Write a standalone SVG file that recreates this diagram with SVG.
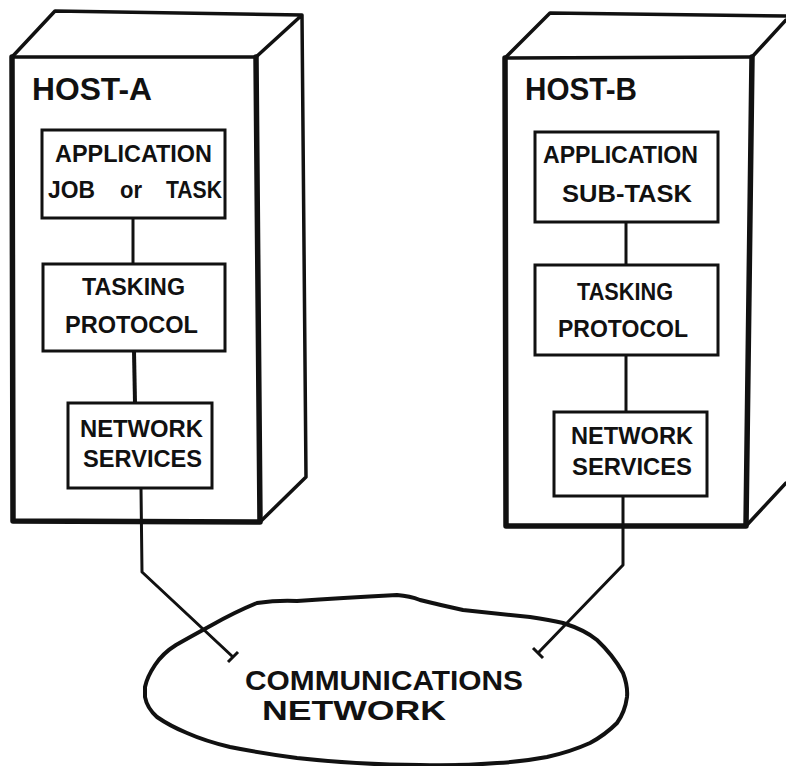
<svg xmlns="http://www.w3.org/2000/svg" width="786" height="766" viewBox="0 0 786 766">
  <style>
    .edge { fill: none; stroke: #111; stroke-linecap: round; stroke-linejoin: round; }
    .face { stroke-width: 5.5; }
    .rim { stroke-width: 3.5; }
    .box { fill: #fff; stroke: #111; stroke-width: 3; }
    .link { fill: none; stroke: #111; stroke-width: 3; stroke-linejoin: round; }
    .lbl { font-family: "Liberation Sans", Arial, sans-serif; font-weight: bold; fill: #111; }
    .host { font-size: 31px; }
    .small { font-size: 24px; }
    .big { font-size: 28px; }
  </style>
  <rect width="786" height="766" fill="#fff"/>

  <!-- Host A cabinet -->
  <g id="host-a">
    <path class="edge rim" d="M12,57 L55,11 L302,15 L256,57 M302,15 L306,477 L260,522"/>
    <path class="edge rim" d="M12,57 L256,57"/>
    <path class="edge face" d="M12,57 L13,521 L260,522 L256,57"/>
    <text class="lbl host" x="32" y="100" textLength="120" lengthAdjust="spacingAndGlyphs">HOST-A</text>
  </g>

  <!-- Host B cabinet -->
  <g id="host-b">
    <path class="edge rim" d="M505,58 L550,13 L786,16 M786,20 L752,57 M746,526 L786,483"/>
    <path class="edge rim" d="M505,58 L752,57"/>
    <path class="edge face" d="M505,58 L506,526 L746,526 L752,57"/>
    <text class="lbl host" x="525" y="100" textLength="112" lengthAdjust="spacingAndGlyphs">HOST-B</text>
  </g>

  <!-- Connectors -->
  <g id="connectors">
    <line class="link" x1="133" y1="218" x2="133" y2="264"/>
    <line class="link" x1="134" y1="351" x2="135" y2="403" style="stroke-width:4"/>
    <polyline class="link" points="141,488 142,572 233,657"/>
    <line class="link" x1="228" y1="662" x2="238" y2="652"/>
    <line class="link" x1="626" y1="222" x2="626" y2="265"/>
    <line class="link" x1="626" y1="355" x2="626" y2="412"/>
    <polyline class="link" points="623,495 623,565 538,653"/>
    <line class="link" x1="533" y1="648" x2="543" y2="658"/>
  </g>

  <!-- Host A nodes -->
  <g id="a-application">
    <rect class="box" x="42" y="130" width="183" height="88"/>
    <text class="lbl small" x="55" y="162" textLength="157" lengthAdjust="spacingAndGlyphs">APPLICATION</text>
    <text class="lbl small" x="48" y="198" textLength="47" lengthAdjust="spacingAndGlyphs">JOB</text>
    <text class="lbl small" x="120" y="198" textLength="22" lengthAdjust="spacingAndGlyphs">or</text>
    <text class="lbl small" x="166" y="198" textLength="56" lengthAdjust="spacingAndGlyphs">TASK</text>
  </g>
  <g id="a-tasking">
    <rect class="box" x="43" y="264" width="182" height="87"/>
    <text class="lbl small" x="82" y="295" textLength="103" lengthAdjust="spacingAndGlyphs">TASKING</text>
    <text class="lbl small" x="65" y="333" textLength="133" lengthAdjust="spacingAndGlyphs">PROTOCOL</text>
  </g>
  <g id="a-network">
    <rect class="box" x="68" y="403" width="144" height="85"/>
    <text class="lbl small" x="80" y="437" textLength="123" lengthAdjust="spacingAndGlyphs">NETWORK</text>
    <text class="lbl small" x="83" y="467" textLength="119" lengthAdjust="spacingAndGlyphs">SERVICES</text>
  </g>

  <!-- Host B nodes -->
  <g id="b-application">
    <rect class="box" x="535" y="132" width="183" height="90"/>
    <text class="lbl small" x="543" y="163" textLength="155" lengthAdjust="spacingAndGlyphs">APPLICATION</text>
    <text class="lbl small" x="562" y="202" textLength="130" lengthAdjust="spacingAndGlyphs">SUB-TASK</text>
  </g>
  <g id="b-tasking">
    <rect class="box" x="535" y="265" width="183" height="90"/>
    <text class="lbl small" x="577" y="300" textLength="96" lengthAdjust="spacingAndGlyphs">TASKING</text>
    <text class="lbl small" x="558" y="337" textLength="130" lengthAdjust="spacingAndGlyphs">PROTOCOL</text>
  </g>
  <g id="b-network">
    <rect class="box" x="554" y="412" width="153" height="84"/>
    <text class="lbl small" x="571" y="444" textLength="122" lengthAdjust="spacingAndGlyphs">NETWORK</text>
    <text class="lbl small" x="572" y="475" textLength="120" lengthAdjust="spacingAndGlyphs">SERVICES</text>
  </g>

  <!-- Communications network cloud -->
  <g id="network-cloud">
    <path class="edge" style="stroke-width:4" d="M145,687 Q147,677 155,665 Q163,653 176,645 Q190,637 212,625 Q235,612 257,603 Q278,600 297,601 Q340,598 397,595 Q410,596 420,600 Q440,605 463,610 Q500,614 530,617 Q550,620 563,623 Q585,630 597,640 Q613,655 623,673 Q628,686 627,697 Q625,712 617,723 Q605,735 590,743 Q570,752 547,757 Q520,762 497,763 Q460,766 420,765 Q360,765 297,758 Q260,753 230,747 Q205,741 187,733 Q170,726 157,717 Q147,708 145,697 Z"/>
    <text class="lbl big" x="245" y="690" textLength="278" lengthAdjust="spacingAndGlyphs">COMMUNICATIONS</text>
    <text class="lbl big" x="262" y="720" textLength="184" lengthAdjust="spacingAndGlyphs">NETWORK</text>
  </g>
</svg>
